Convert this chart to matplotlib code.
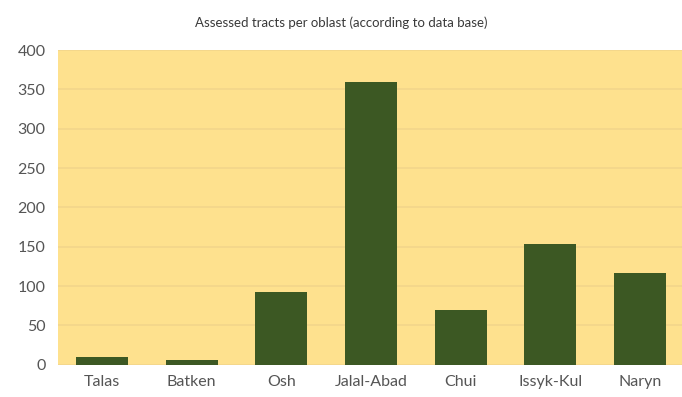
import matplotlib.pyplot as plt

oblasts = ['Talas', 'Batken', 'Osh', 'Jalal-Abad', 'Chui', 'Issyk-Kul', 'Naryn']
tracts = [10, 6, 93, 360, 70, 153, 117]
yticks = [0, 50, 100, 150, 200, 250, 300, 350, 400]

plt.rcParams['font.family'] = ['Lato', 'DejaVu Sans']

fig = plt.figure(figsize=(6.82, 3.97), dpi=100)
ax = fig.add_axes([0.085, 0.081, 0.915, 0.793])
ax.set_facecolor('#FEE18E')

ax.bar(range(len(oblasts)), tracts, width=0.58, color='#3C5823', zorder=3)

ax.set_ylim(0, 400)
ax.set_xlim(-0.49, 6.47)
ax.set_yticks(yticks)
ax.set_xticks(range(len(oblasts)))
ax.set_xticklabels(oblasts)
ax.yaxis.grid(True, color='#F2D68B', linewidth=1.2, zorder=0)
for s in ax.spines.values():
    s.set_visible(False)
ax.tick_params(length=0, colors='#555555', labelsize=11.5)
ax.tick_params(axis='y', pad=9)
ax.tick_params(axis='x', pad=7)

fig.text(0.5, 0.943, 'Assessed tracts per oblast (according to data base)',
         ha='center', va='center', fontsize=9.5, color='#3A3A3A')

fig.savefig('out.png', dpi=100)
